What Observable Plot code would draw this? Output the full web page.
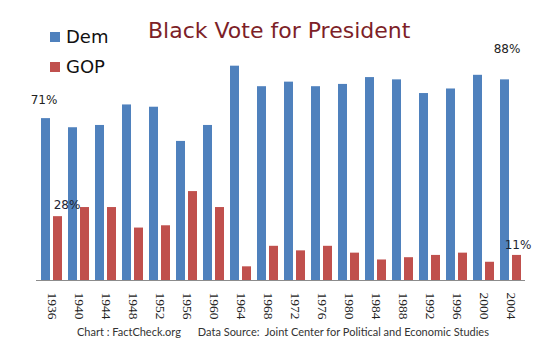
<!DOCTYPE html>
<html><head><meta charset="utf-8">
<script src="https://cdn.jsdelivr.net/npm/d3@7"></script>
<script src="https://cdn.jsdelivr.net/npm/@observablehq/plot@0.6"></script>
<style>
body{margin:0;background:#fff;}
#wrap{position:relative;width:550px;height:359px;overflow:hidden;font-family:Lato,sans-serif;background:#fff;}
#wrap svg{position:absolute;left:0;top:0;}
.ov{position:absolute;white-space:pre;line-height:1;}
.title{left:148px;top:20px;font-size:22px;color:#7d1f28;font-family:"DejaVu Sans",sans-serif;}
.leg{left:66px;font-size:18px;color:#111;font-family:"DejaVu Sans",sans-serif;}
.sw{position:absolute;left:50px;width:10px;height:10px;}
.cap{left:77px;top:326px;font-size:11px;color:#333;font-family:Lato,sans-serif;}
</style></head><body><div id="wrap"></div>
<script>
const years = ["1936","1940","1944","1948","1952","1956","1960","1964","1968","1972","1976","1980","1984","1988","1992","1996","2000","2004"];
const dem = [71,67,68,77,76,61,68,94,85,87,85,86,89,88,82,84,90,88];
const gop = [28,32,32,23,24,39,32,6,15,13,15,12,9,10,11,12,8,11];
const seriesNames = ["Dem","GOP"];
const colors = ["#4f81bd","#c0504d"];
const titleText = "Black Vote for President";
const captionText = "Chart : FactCheck.org      Data Source:  Joint Center for Political and Economic Studies";

const data = years.map((y,i)=>({year:y, dem:dem[i], gop:gop[i]}));
const first = [data[0]], last = [data[data.length-1]];
const lab = {fontFamily:"DejaVu Sans", fontSize:12, fill:"#1e2433"};

const plot = Plot.plot({
  width:550, height:359, marginLeft:36, marginRight:25, marginTop:52, marginBottom:79,
  style:{fontFamily:"Liberation Serif", fontSize:"13.5px", color:"#222", background:"transparent"},
  x:{domain:years, paddingInner:0.23, paddingOuter:0.1, tickSize:0, tickRotate:90, tickPadding:12, label:null},
  y:{domain:[0,100], axis:null},
  marks:[
    Plot.barY(data,{x:"year", y:"dem", fill:colors[0], insetRight:12}),
    Plot.barY(data,{x:"year", y:"gop", fill:colors[1], insetLeft:12}),
    Plot.ruleY([0],{stroke:"#8c8c8c"}),
    Plot.text(first,{x:"year", y:"dem", text:d=>d.dem+"%", dx:-8, dy:-18, ...lab, fill:"#222"}),
    Plot.text(last,{x:"year", y:"dem", text:d=>d.dem+"%", dx:-4, dy:-31, ...lab, fill:"#222"}),
    Plot.text(first,{x:"year", y:"gop", text:d=>d.gop+"%", dx:15, dy:-12, ...lab}),
    Plot.text(last,{x:"year", y:"gop", text:d=>d.gop+"%", dx:7, dy:-10, ...lab})
  ]
});
const wrap = document.getElementById("wrap");
wrap.appendChild(plot);
function ov(cls, txt, top){const d=document.createElement("div");d.className="ov "+cls;d.textContent=txt;if(top!=null)d.style.top=top+"px";wrap.appendChild(d);return d;}
ov("title", titleText);
seriesNames.forEach((n,i)=>{
  const s=document.createElement("div");s.className="sw";s.style.background=colors[i];s.style.top=(32+i*30)+"px";wrap.appendChild(s);
  ov("leg", n, 28+i*30);
});
ov("cap", captionText);
</script></body></html>
